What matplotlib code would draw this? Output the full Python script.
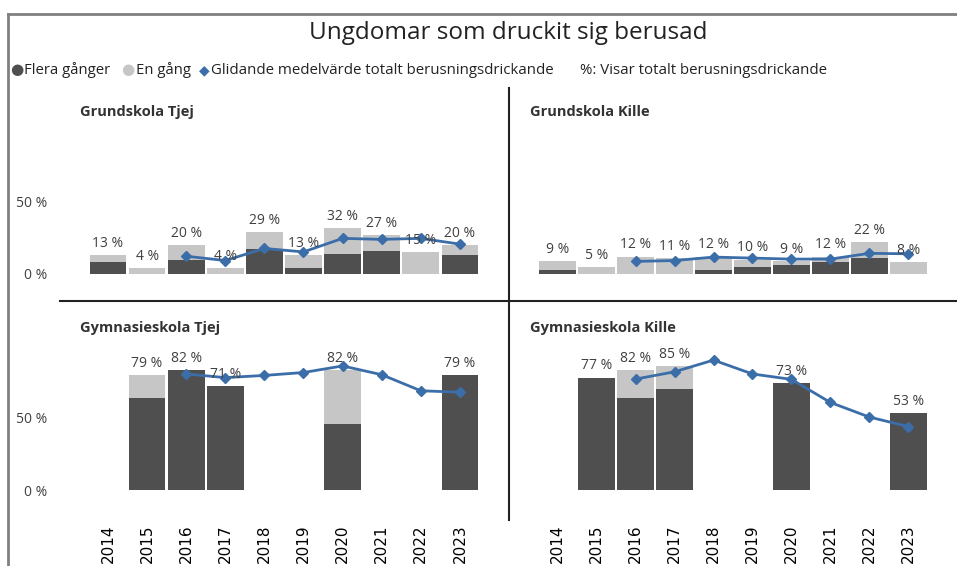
import matplotlib
matplotlib.use("Agg")
import matplotlib.pyplot as plt
from matplotlib.lines import Line2D

plt.rcParams['font.family'] = ['Open Sans', 'DejaVu Sans']

# data
years = [2014, 2015, 2016, 2017, 2018, 2019, 2020, 2021, 2022, 2023]

# Grundskola Tjej
gr_tjej_flera = [8, 0, 10, 0, 17, 4, 14, 16, 0, 13]
gr_tjej_en = [5, 4, 10, 4, 12, 9, 18, 11, 15, 7]
gr_tjej_total = [13, 4, 20, 4, 29, 13, 32, 27, 15, 20]
gr_tjej_medel = [None, None, 12.3, 9.3, 17.7, 15.3, 24.7, 24.0, 24.7, 20.7]

# Grundskola Kille
gr_kille_flera = [3, 0, 0, 0, 3, 5, 6, 8, 11, 0]
gr_kille_en = [6, 5, 12, 11, 9, 5, 3, 4, 11, 8]
gr_kille_total = [9, 5, 12, 11, 12, 10, 9, 12, 22, 8]
gr_kille_medel = [None, None, 8.7, 9.3, 11.7, 11.0, 10.3, 10.3, 14.3, 14.0]

# Gymnasieskola Tjej
gy_tjej_flera = [None, 63, 82, 71, None, None, 45, None, None, 79]
gy_tjej_en = [None, 16, 0, 0, None, None, 37, None, None, 0]
gy_tjej_total = [None, 79, 82, 71, None, None, 82, None, None, 79]
gy_tjej_medel = [None, None, 79.5, 77.0, 78.5, 80.5, 85.0, 79.0, 68.0, 67.0]

# Gymnasieskola Kille
gy_kille_flera = [None, 77, 63, 69, None, None, 73, None, None, 53]
gy_kille_en = [None, 0, 19, 16, None, None, 0, None, None, 0]
gy_kille_total = [None, 77, 82, 85, None, None, 73, None, None, 53]
gy_kille_medel = [None, None, 76.0, 81.0, 89.0, 79.5, 75.8, 60.0, 50.0, 43.5]

DARK = '#4f4f4f'
LIGHT = '#c6c6c6'
BLUE = '#3b6ea8'
TXT = '#404040'

W, H = 957, 566
fig = plt.figure(figsize=(W / 100, H / 100), dpi=100)


def rect(x0, y_top, x1, y_bot):
    return [x0 / W, 1 - y_bot / H, (x1 - x0) / W, (y_bot - y_top) / H]


def draw_panel(ax, flera, en, total, medel, ylim, left, bottom):
    x = list(range(len(years)))
    f = [v if v is not None else 0 for v in flera]
    e = [v if v is not None else 0 for v in en]
    ax.bar(x, f, width=0.94, color=DARK, linewidth=0)
    ax.bar(x, e, width=0.94, bottom=f, color=LIGHT, linewidth=0)
    mx = [i for i, v in zip(x, medel) if v is not None]
    my = [v for v in medel if v is not None]
    ax.plot(mx, my, color=BLUE, lw=2, marker='D', ms=5.5, zorder=3)
    for i, t in zip(x, total):
        if t is None:
            continue
        ax.annotate(f'{t} %', (i, t), xytext=(0, 3), textcoords='offset points',
                    ha='center', va='bottom', fontsize=10, color=TXT, zorder=4)
    ax.set_xlim(-1.2, 10.2)
    ax.set_ylim(*ylim)
    for s in ax.spines.values():
        s.set_visible(False)
    ax.tick_params(length=0)
    if left:
        ax.set_yticks([0, 50])
        ax.set_yticklabels(['0 %', '50 %'], fontsize=10, color=TXT)
        ax.tick_params(axis='y', pad=10)
    else:
        ax.set_yticks([])
    if bottom:
        ax.set_xticks(x)
        ax.set_xticklabels([str(y) for y in years], rotation=90, fontsize=11,
                           family='DejaVu Sans', color='black')
        ax.tick_params(axis='x', pad=3)
    else:
        ax.set_xticks([])
    ax.patch.set_alpha(0)


ax1 = fig.add_axes(rect(61.1, 120, 506.8, 300))
draw_panel(ax1, gr_tjej_flera, gr_tjej_en, gr_tjej_total, gr_tjej_medel,
           (-18.1, 106.9), True, False)
ax2 = fig.add_axes(rect(511, 120, 955, 300))
draw_panel(ax2, gr_kille_flera, gr_kille_en, gr_kille_total, gr_kille_medel,
           (-18.1, 106.9), False, False)
ax3 = fig.add_axes(rect(61.1, 303, 506.8, 520))
draw_panel(ax3, gy_tjej_flera, gy_tjej_en, gy_tjej_total, gy_tjej_medel,
           (-20.5, 128.1), True, True)
ax4 = fig.add_axes(rect(511, 303, 955, 520))
draw_panel(ax4, gy_kille_flera, gy_kille_en, gy_kille_total, gy_kille_medel,
           (-20.5, 128.1), False, True)

# panel titles
for txt, px, py in [('Grundskola Tjej', 80, 112), ('Grundskola Kille', 530, 112),
                    ('Gymnasieskola Tjej', 80, 328), ('Gymnasieskola Kille', 530, 328)]:
    fig.text(px / W, 1 - py / H, txt, fontsize=10.5, fontweight='bold', color='#333333',
             ha='left', va='center')

# title and legend row
fig.text(508 / W, 1 - 33 / H, 'Ungdomar som druckit sig berusad', fontsize=17.5,
         ha='center', va='center', color='#222222')
ly = 1 - 70 / H
fig.text(10 / W, ly, '●', fontsize=11, color=DARK, ha='left', va='center')
fig.text(24 / W, ly, 'Flera gånger', fontsize=10.7, color='#222222', ha='left', va='center')
fig.text(121 / W, ly, '●', fontsize=11, color=LIGHT, ha='left', va='center')
fig.text(136 / W, ly, 'En gång', fontsize=10.7, color='#222222', ha='left', va='center')
fig.text(199 / W, ly, '◆', fontsize=10, color=BLUE, ha='left', va='center', family='DejaVu Sans')
fig.text(211 / W, ly, 'Glidande medelvärde totalt berusningsdrickande', fontsize=10.8,
         color='#222222', ha='left', va='center')
fig.text(580 / W, ly, '%: Visar totalt berusningsdrickande', fontsize=10.8,
         color='#222222', ha='left', va='center')

# frame and dividers
def fline(x0, y0, x1, y1, color, lw):
    fig.add_artist(Line2D([x0 / W, x1 / W], [1 - y0 / H, 1 - y1 / H], color=color, lw=lw))

fline(8, 14, W, 14, '#808080', 2)
fline(8, 14, 8, H, '#808080', 2)
fline(60, 301, W, 301, '#222222', 1.5)
fline(509, 88, 509, 520, '#222222', 1.5)

fig.savefig('out.png', dpi=100)
